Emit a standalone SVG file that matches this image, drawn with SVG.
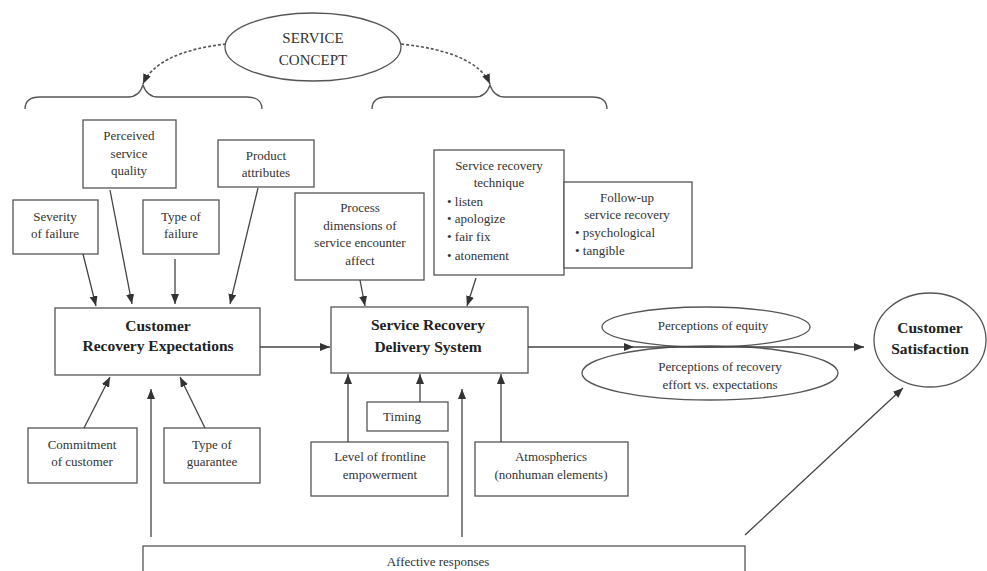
<svg xmlns="http://www.w3.org/2000/svg" width="987" height="571" viewBox="0 0 987 571">
<style>
.box{fill:#fff;stroke:#555;stroke-width:1.3}
.ell{fill:none;stroke:#555;stroke-width:1.3}
.t{font-family:"Liberation Serif",serif;font-size:13px;fill:#333;text-anchor:middle}
.tl{font-family:"Liberation Serif",serif;font-size:13px;fill:#333}
.b{font-family:"Liberation Serif",serif;font-size:15.5px;font-weight:bold;fill:#222;text-anchor:middle}
.c{stroke:#444;stroke-width:1.3;fill:none;marker-end:url(#ah)}
.d{stroke:#555;stroke-width:1.6;fill:none;stroke-dasharray:3 2;marker-end:url(#ah)}
.br{stroke:#555;stroke-width:1.3;fill:none}
</style>
<defs>
<marker id="ah" markerUnits="userSpaceOnUse" markerWidth="11" markerHeight="9" refX="10" refY="4" orient="auto">
<path d="M0,0 L10,4 L0,8 z" fill="#333"/>
</marker>
</defs>
<rect width="987" height="571" fill="#fff"/>

<g id="service-concept">
<ellipse class="ell" cx="313" cy="47" rx="88" ry="34"/>
<text class="t" x="313" y="43" style="font-size:15px">SERVICE</text>
<text class="t" x="313" y="65" style="font-size:15px">CONCEPT</text>
</g>
<g id="braces">
<path class="br" d="M25,109 Q25,97 40,97 L128,97 Q139,97 143,85 Q147,97 158,97 L247,97 Q262,97 262,109"/>
<path class="br" d="M372,109 Q372,97 387,97 L475,97 Q486,97 490,85 Q494,97 505,97 L592,97 Q607,97 607,109"/>
</g>

<g id="perceived-quality">
<rect class="box" x="83" y="120" width="93" height="68"/>
<text class="t" x="129" y="140">Perceived</text>
<text class="t" x="129" y="158">service</text>
<text class="t" x="129" y="175">quality</text>
</g>
<g id="product-attributes">
<rect class="box" x="218" y="140" width="96" height="47"/>
<text class="t" x="266" y="160">Product</text>
<text class="t" x="266" y="177">attributes</text>
</g>
<g id="severity">
<rect class="box" x="13" y="200" width="85" height="54"/>
<text class="t" x="55" y="221">Severity</text>
<text class="t" x="55" y="238">of failure</text>
</g>
<g id="type-failure">
<rect class="box" x="143" y="200" width="76" height="54"/>
<text class="t" x="181" y="221">Type of</text>
<text class="t" x="181" y="238">failure</text>
</g>
<g id="process-dimensions">
<rect class="box" x="295" y="193" width="129" height="87"/>
<text class="t" x="360" y="212">Process</text>
<text class="t" x="360" y="230">dimensions of</text>
<text class="t" x="360" y="247">service encounter</text>
<text class="t" x="360" y="265">affect</text>
</g>
<g id="recovery-technique">
<rect class="box" x="434" y="150" width="130" height="125"/>
<text class="t" x="499" y="170">Service recovery</text>
<text class="t" x="499" y="187">technique</text>
<text class="tl" x="447" y="206">• listen</text>
<text class="tl" x="447" y="223">• apologize</text>
<text class="tl" x="447" y="241">• fair fix</text>
<text class="tl" x="447" y="260">• atonement</text>
</g>
<g id="follow-up">
<rect class="box" x="564" y="182" width="128" height="86"/>
<text class="t" x="627" y="202">Follow-up</text>
<text class="t" x="627" y="219">service recovery</text>
<text class="tl" x="575" y="237">• psychological</text>
<text class="tl" x="575" y="255">• tangible</text>
</g>
<g id="customer-recovery-expectations">
<rect class="box" x="55" y="308" width="205" height="67"/>
<text class="b" x="158" y="331">Customer</text>
<text class="b" x="158" y="351">Recovery Expectations</text>
</g>
<g id="service-recovery-delivery">
<rect class="box" x="331" y="307" width="197" height="66"/>
<text class="b" x="428" y="330">Service Recovery</text>
<text class="b" x="428" y="352">Delivery System</text>
</g>
<g id="perceptions-equity">
<ellipse class="ell" cx="706" cy="327" rx="104" ry="20"/>
<text class="t" x="713" y="330">Perceptions of equity</text>
</g>
<g id="perceptions-recovery">
<ellipse class="ell" cx="710" cy="373" rx="128" ry="27"/>
<text class="t" x="720" y="371">Perceptions of recovery</text>
<text class="t" x="720" y="389">effort vs. expectations</text>
</g>
<g id="customer-satisfaction">
<ellipse class="ell" cx="930" cy="340" rx="56" ry="47"/>
<text class="b" x="930" y="333">Customer</text>
<text class="b" x="930" y="354">Satisfaction</text>
</g>
<g id="commitment">
<rect class="box" x="28" y="428" width="109" height="55"/>
<text class="t" x="82" y="449">Commitment</text>
<text class="t" x="82" y="466">of customer</text>
</g>
<g id="guarantee">
<rect class="box" x="164" y="428" width="96" height="55"/>
<text class="t" x="212" y="449">Type of</text>
<text class="t" x="212" y="466">guarantee</text>
</g>
<g id="timing">
<rect class="box" x="367" y="402" width="81" height="29"/>
<text class="t" x="402" y="421">Timing</text>
</g>
<g id="frontline">
<rect class="box" x="311" y="442" width="137" height="54"/>
<text class="t" x="380" y="461">Level of frontline</text>
<text class="t" x="380" y="479">empowerment</text>
</g>
<g id="atmospherics">
<rect class="box" x="475" y="442" width="153" height="54"/>
<text class="t" x="551" y="461">Atmospherics</text>
<text class="t" x="551" y="479">(nonhuman elements)</text>
</g>
<g id="affective">
<rect class="box" x="143" y="546" width="602" height="40"/>
<text class="t" x="438" y="566">Affective responses</text>
</g>

<g id="connectors">
<path class="d" d="M226,44 Q157,52 143,84"/>
<path class="d" d="M401,44 Q476,52 490,84"/>
<path class="c" d="M83,254 L96,306"/>
<path class="c" d="M110,190 L132,304"/>
<path class="c" d="M175,259 L175,304"/>
<path class="c" d="M258,188 L230,304"/>
<path class="c" d="M260,347 L330,347"/>
<path class="c" d="M360,280 L365,306"/>
<path class="c" d="M476,278 L467,306"/>
<path class="c" d="M84,428 L110,377"/>
<path class="c" d="M205,428 L180,377"/>
<path class="c" d="M151,537 L151,389"/>
<path class="c" d="M348,442 L348,374"/>
<path class="c" d="M420,402 L420,374"/>
<path class="c" d="M462,537 L462,389"/>
<path class="c" d="M501,442 L501,374"/>
<path class="c" d="M528,347 L634,347"/>
<path class="c" d="M634,347 L864,347"/>
<path class="c" d="M745,535 L903,388"/>
</g>
</svg>
